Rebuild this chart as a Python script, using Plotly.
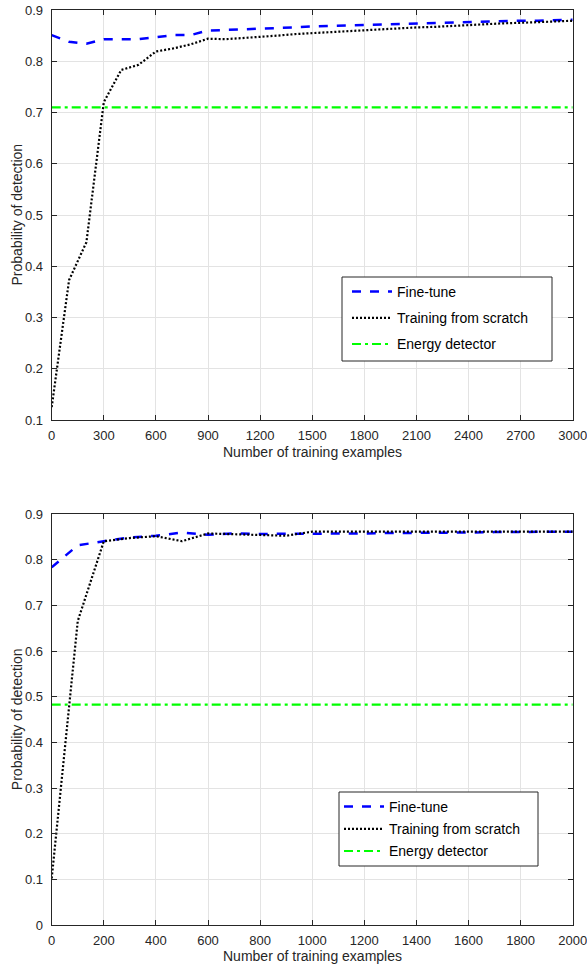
import plotly.graph_objects as go

# ---------------- data ----------------
x_top = list(range(0, 3001, 100))
finetune_top = [0.851, 0.838, 0.834, 0.843, 0.843, 0.843, 0.847, 0.851, 0.851, 0.860,
                0.861, 0.862, 0.863, 0.865, 0.866, 0.868, 0.869, 0.870, 0.871, 0.872,
                0.873, 0.874, 0.875, 0.876, 0.876, 0.877, 0.878, 0.879, 0.879, 0.880, 0.881]
scratch_top = [0.125, 0.373, 0.447, 0.720, 0.783, 0.793, 0.819, 0.825, 0.833, 0.844,
               0.843, 0.845, 0.847, 0.850, 0.853, 0.855, 0.857, 0.858, 0.860, 0.862,
               0.864, 0.866, 0.867, 0.869, 0.870, 0.872, 0.874, 0.875, 0.876, 0.877, 0.879]
energy_top = 0.710

x_bot = list(range(0, 2001, 100))
finetune_bot = [0.784, 0.832, 0.841, 0.849, 0.853, 0.860, 0.855, 0.858, 0.857, 0.857,
                0.858, 0.858, 0.858, 0.859, 0.859, 0.860, 0.860, 0.861, 0.861, 0.861, 0.862]
scratch_bot = [0.102, 0.666, 0.841, 0.848, 0.852, 0.841, 0.858, 0.856, 0.855, 0.853,
               0.862, 0.862, 0.862, 0.862, 0.862, 0.862, 0.862, 0.862, 0.862, 0.862, 0.862]
energy_bot = 0.483

top_xticks = list(range(0, 3001, 300))
bot_xticks = list(range(0, 2001, 200))
top_yticks = [0.1, 0.2, 0.3, 0.4, 0.5, 0.6, 0.7, 0.8, 0.9]
bot_yticks = [0, 0.1, 0.2, 0.3, 0.4, 0.5, 0.6, 0.7, 0.8, 0.9]

names = ["Fine-tune", "Training from scratch", "Energy detector"]
# ---------------------------------------

W, H = 587, 964
FONT = "Liberation Sans, Arial, Helvetica, sans-serif"
AX = "#262626"
GRID = "#e3e3e3"

styles = [dict(color="#0000ff", width=2.5, dash="9px,9px"),
          dict(color="#000000", width=2.2, dash="2px,2px"),
          dict(color="#00ff00", width=2.2, dash="9px,4px,3px,4px")]

fig = go.Figure()

def add_panel(xs, ft, sc, en, xa, ya, leg):
    fig.add_trace(go.Scatter(x=xs, y=ft, mode="lines", name=names[0], line=styles[0],
                             xaxis=xa, yaxis=ya, legend=leg, legendgroup=leg + "a"))
    fig.add_trace(go.Scatter(x=xs, y=sc, mode="lines", name=names[1], line=styles[1],
                             xaxis=xa, yaxis=ya, legend=leg, legendgroup=leg + "b"))
    fig.add_trace(go.Scatter(x=xs, y=[en] * len(xs), mode="lines", name=names[2], line=styles[2],
                             xaxis=xa, yaxis=ya, legend=leg, legendgroup=leg + "c"))

add_panel(x_top, finetune_top, scratch_top, energy_top, "x", "y", "legend")
add_panel(x_bot, finetune_bot, scratch_bot, energy_bot, "x2", "y2", "legend2")

xdom = [51.7 / W, 572.7 / W]
top_dom = [1 - 420 / H, 1 - 10 / H]
bot_dom = [1 - 925 / H, 1 - 514.3 / H]

common = dict(showline=True, linecolor=AX, linewidth=1, mirror="ticks", ticks="inside",
              ticklen=5, tickwidth=1, tickcolor=AX, showgrid=True, gridcolor=GRID,
              gridwidth=1, zeroline=False, ticklabeloverflow="allow", automargin=False,
              tickfont=dict(family=FONT, size=13, color=AX))
xcommon = dict(ticklabelstandoff=3, **common)
ycommon = dict(ticklabelstandoff=5, **common)

def legend_box(x0, y0, x1, y1):
    return dict(type="rect", xref="paper", yref="paper", layer="above",
                x0=x0 / W, x1=x1 / W, y0=1 - y1 / H, y1=1 - y0 / H,
                fillcolor="white", line=dict(color=AX, width=1))

fig.update_layout(
    width=W, height=H, margin=dict(l=0, r=0, t=0, b=0, autoexpand=False),
    paper_bgcolor="white", plot_bgcolor="white",
    font=dict(family=FONT, size=13, color=AX),
    xaxis=dict(domain=xdom, anchor="y", range=[0, 3000], tickvals=top_xticks, **xcommon),
    yaxis=dict(domain=top_dom, anchor="x", range=[0.1, 0.9], tickvals=top_yticks,
               tickformat=".1f", **ycommon),
    xaxis2=dict(domain=xdom, anchor="y2", range=[0, 2000], tickvals=bot_xticks, **xcommon),
    yaxis2=dict(domain=bot_dom, anchor="x2", range=[0, 0.9], tickvals=bot_yticks,
                ticktext=[("0" if v == 0 else f"{v:.1f}") for v in bot_yticks], **ycommon),
    shapes=[legend_box(342, 277, 552, 361), legend_box(339, 792, 538, 866)],
    legend=dict(x=347 / W, y=1 - 276 / H, xanchor="left", yanchor="top",
                bgcolor="rgba(0,0,0,0)", borderwidth=0, tracegroupgap=5,
                itemwidth=40,
                font=dict(family=FONT, size=14, color="#000000")),
    legend2=dict(x=339 / W, y=1 - 791 / H, xanchor="left", yanchor="top",
                 bgcolor="rgba(0,0,0,0)", borderwidth=0, tracegroupgap=1,
                 itemwidth=40,
                 font=dict(family=FONT, size=14, color="#000000")),
    annotations=[
        dict(text="Number of training examples", x=(xdom[0] + xdom[1]) / 2, y=1 - 452 / H,
             xref="paper", yref="paper", showarrow=False, xanchor="center", yanchor="middle",
             font=dict(family=FONT, size=14, color=AX)),
        dict(text="Number of training examples", x=(xdom[0] + xdom[1]) / 2, y=1 - 956 / H,
             xref="paper", yref="paper", showarrow=False, xanchor="center", yanchor="middle",
             font=dict(family=FONT, size=14, color=AX)),
        dict(text="Probability of detection", x=16.5 / W, y=(top_dom[0] + top_dom[1]) / 2,
             xref="paper", yref="paper", showarrow=False, textangle=-90,
             xanchor="center", yanchor="middle", font=dict(family=FONT, size=14, color=AX)),
        dict(text="Probability of detection", x=16.5 / W, y=(bot_dom[0] + bot_dom[1]) / 2,
             xref="paper", yref="paper", showarrow=False, textangle=-90,
             xanchor="center", yanchor="middle", font=dict(family=FONT, size=14, color=AX)),
    ],
)

fig.write_html("out.html")
